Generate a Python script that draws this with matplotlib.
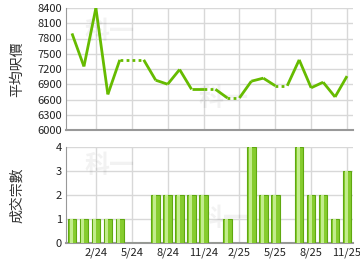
import matplotlib
matplotlib.use('Agg')
import matplotlib.pyplot as plt
import numpy as np

plt.rcParams['font.family'] = ['Noto Sans CJK TC', 'DejaVu Sans']

# monthly data 12/23 .. 11/25
months = ['12/23', '1/24', '2/24', '3/24', '4/24', '5/24', '6/24', '7/24', '8/24', '9/24',
          '10/24', '11/24', '12/24', '1/25', '2/25', '3/25', '4/25', '5/25', '6/25', '7/25',
          '8/25', '9/25', '10/25', '11/25']
price = [7900, 7250, 8400, 6700, 7380, 7380, 7380, 6980, 6900, 7190,
         6800, 6800, 6800, 6630, 6630, 6960, 7020, 6870, 6870, 7380,
         6830, 6940, 6650, 7060]
counts = [1, 1, 1, 1, 1, 0, 0, 2, 2, 2, 2, 2, 0, 1, 0, 4, 2, 2, 0, 4, 2, 2, 1, 3]

tick_idx = [2, 5, 8, 11, 14, 17, 20, 23]
tick_lab = [months[i] for i in tick_idx]

green = '#66bb00'
grid_c = '#d8d8d8'
spine_c = '#999999'

fig = plt.figure(figsize=(3.6, 2.7), dpi=100)
ax1 = fig.add_axes([66/360, 140/270, 287/360, 122/270])
ax2 = fig.add_axes([66/360, 27/270, 287/360, 96/270])

x = np.arange(len(months))

# price line: dotted where the month has no transactions
for i in range(1, len(x)):
    ls = '-' if counts[i] > 0 else (0, (1, 1.2))
    ax1.plot(x[i-1:i+1], price[i-1:i+1], color=green, lw=2, ls=ls,
             solid_capstyle='butt', zorder=3)

ax1.set_ylim(6000, 8400)
ax1.set_yticks(np.arange(6000, 8401, 300))
ax1.set_ylabel('平均呎價', fontsize=10, color='#333333')

# bars with a lighter stripe for the shaded look
ax2.bar(x, counts, width=0.72, color='#86cc2e', edgecolor='#5fa810', lw=0.8, zorder=3)
ax2.bar(x - 0.08, counts, width=0.25, color='#c2ec8c', lw=0, zorder=4)
ax2.set_ylim(0, 4)
ax2.set_yticks(range(0, 5))
ax2.set_ylabel('成交宗數', fontsize=10, color='#333333')

for ax in (ax1, ax2):
    ax.set_xlim(-0.5, 23.5)
    ax.set_xticks(tick_idx)
    ax.grid(True, color=grid_c, lw=1, zorder=0)
    ax.set_axisbelow(True)
    for s in ('top', 'right'):
        ax.spines[s].set_visible(False)
    ax.spines['left'].set_color(spine_c)
    ax.spines['bottom'].set_color(spine_c)
    ax.spines['bottom'].set_linewidth(1.5)
    ax.tick_params(axis='both', length=0, labelsize=8, colors='#222222', pad=3)
    ax.yaxis.set_label_coords(-0.145, 0.5)
    # watermark
    for wx, wy in [(0.15, 0.8), (0.55, 0.25)]:
        ax.text(wx, wy, '科一', transform=ax.transAxes, fontsize=18, color='black',
                alpha=0.05, fontweight='bold', ha='center', va='center', zorder=1)

ax1.set_xticklabels([])
ax2.set_xticklabels(tick_lab)

fig.savefig('out.png', dpi=100)
